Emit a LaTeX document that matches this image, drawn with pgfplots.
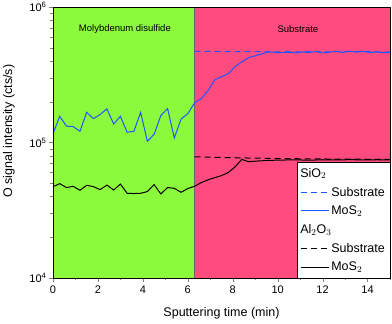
\documentclass[border=0pt]{standalone}
\usepackage{pgfplots}
\pgfplotsset{compat=1.18}
\usepackage{fontspec}
\setmainfont{Liberation Sans}

\definecolor{layergreen}{RGB}{140,250,60}
\definecolor{subpink}{RGB}{255,75,125}
\definecolor{sioblue}{RGB}{35,85,255}

\begin{document}
\begin{tikzpicture}
\begin{axis}[
    scale only axis,
    width=337pt, height=271pt,
    xmin=0, xmax=15,
    ymode=log, ymin=1e4, ymax=1e6,
    axis on top,
    tick align=outside,
    xtick pos=bottom, ytick pos=left,
    major tick length=4pt, minor tick length=2.5pt,
    xtick={0,2,...,14},
    minor xtick={1,3,...,15},
    ytick={1e4,1e5,1e6},
    yticklabels={10\textsuperscript{4},10\textsuperscript{5},10\textsuperscript{6}},
    minor ytick={2e4,3e4,4e4,5e4,6e4,7e4,8e4,9e4,2e5,3e5,4e5,5e5,6e5,7e5,8e5,9e5},
    /pgf/number format/assume math mode=true,
    ticklabel style={font=\fontsize{11}{13}\selectfont},
    yticklabel style={xshift=1pt},
    label style={font=\fontsize{12.5}{15}\selectfont},
    xlabel={Sputtering time (min)},
    ylabel={O signal intensity (cts/s)},
    xlabel style={at={(axis description cs:0.5,-0.13)}, anchor=center},
    ylabel style={at={(axis description cs:-0.131,0.542)}, anchor=center},
    legend style={at={(1,0)}, anchor=south east, draw=black, fill=white,
        font=\fontsize{12.5}{14}\selectfont, row sep=4.3pt,
        cells={anchor=west}, inner xsep=3pt, inner ysep=3.5pt},
    legend image code/.code={\draw[#1] (0pt,0pt) -- (28pt,0pt);},
]
% background regions
\fill[layergreen] (axis cs:0,1e4) rectangle (axis cs:6.27,1e6);
\fill[subpink] (axis cs:6.27,1e4) rectangle (axis cs:15,1e6);
\draw[black!60, line width=0.5pt] (axis cs:6.27,1e4) -- (axis cs:6.27,1e6);
\node[font=\fontsize{9.5}{11}\selectfont] at (axis cs:3.2,6.9e5) {Molybdenum disulfide};
\node[font=\fontsize{9.5}{11}\selectfont] at (axis cs:10.9,6.9e5) {Substrate};

\addlegendimage{empty legend}
\addlegendentry{\makebox[0pt][l]{\hspace*{-31pt}SiO$_2$}}
% SiO2 substrate
\addplot[sioblue, line width=1pt, dash pattern=on 6pt off 4pt] coordinates {
(6.3,4.70e5) (6.9,4.70e5) (7.5,4.69e5) (8.1,4.69e5) (8.7,4.68e5) (9.3,4.68e5)
(9.9,4.66e5) (10.5,4.68e5) (11.1,4.65e5) (11.7,4.71e5) (12.3,4.66e5) (12.9,4.72e5)
(13.5,4.67e5) (14.1,4.70e5) (14.7,4.64e5) (15,4.66e5)
};
\addlegendentry{Substrate}
% SiO2 MoS2
\addplot[sioblue, line width=1pt] coordinates {
(0,1.16e5) (0.3,1.56e5) (0.6,1.32e5) (0.9,1.31e5) (1.2,1.21e5) (1.5,1.67e5)
(1.8,1.50e5) (2.1,1.61e5) (2.4,1.77e5) (2.7,1.37e5) (3.0,1.56e5) (3.3,1.19e5)
(3.6,1.21e5) (3.9,1.67e5) (4.2,1.02e5) (4.5,1.15e5) (4.8,1.58e5) (5.1,1.78e5)
(5.4,1.08e5) (5.7,1.49e5) (6.0,1.63e5) (6.3,1.96e5) (6.6,2.11e5) (6.9,2.41e5)
(7.2,2.90e5) (7.5,3.06e5) (7.8,3.22e5) (8.1,3.62e5) (8.4,3.94e5) (8.7,4.22e5)
(9.0,4.36e5) (9.3,4.51e5) (9.6,4.67e5) (9.9,4.62e5) (10.2,4.60e5) (10.5,4.63e5)
(10.8,4.58e5) (11.1,4.66e5) (11.4,4.61e5) (11.7,4.69e5) (12.0,4.58e5) (12.3,4.64e5)
(12.6,4.70e5) (12.9,4.62e5) (13.2,4.72e5) (13.5,4.65e5) (13.8,4.70e5) (14.1,4.61e5)
(14.4,4.66e5) (14.7,4.60e5) (15.0,4.62e5)
};
\addlegendentry{MoS$_2$}

\addlegendimage{empty legend}
\addlegendentry{\makebox[0pt][l]{\hspace*{-31pt}Al$_2$O$_3$}}
% Al2O3 substrate
\addplot[black, line width=1pt, dash pattern=on 6pt off 4pt] coordinates {
(6.3,7.85e4) (6.9,7.80e4) (7.5,7.76e4) (8.1,7.72e4) (8.7,7.68e4) (9.3,7.65e4)
(9.9,7.62e4) (10.5,7.60e4) (11.1,7.58e4) (11.7,7.57e4) (12.3,7.55e4) (12.9,7.54e4)
(13.5,7.53e4) (14.1,7.52e4) (14.7,7.50e4) (15,7.50e4)
};
\addlegendentry{Substrate}
% Al2O3 MoS2
\addplot[black, line width=1pt] coordinates {
(0,4.72e4) (0.3,4.97e4) (0.6,4.65e4) (0.9,4.75e4) (1.2,4.44e4) (1.5,4.83e4)
(1.8,4.72e4) (2.1,4.49e4) (2.4,4.85e4) (2.7,4.46e4) (3.0,4.93e4) (3.3,4.22e4)
(3.6,4.20e4) (3.9,4.22e4) (4.2,4.34e4) (4.5,4.89e4) (4.8,4.17e4) (5.1,4.65e4)
(5.4,4.59e4) (5.7,4.29e4) (6.0,4.57e4) (6.3,4.75e4) (6.6,5.06e4) (6.9,5.30e4)
(7.2,5.50e4) (7.5,5.70e4) (7.8,6.00e4) (8.1,6.60e4) (8.4,7.50e4) (8.7,7.22e4)
(9.0,7.28e4) (9.3,7.33e4) (9.6,7.38e4) (10.2,7.42e4) (10.8,7.45e4) (11.4,7.40e4)
(12.0,7.46e4) (12.6,7.43e4) (13.2,7.47e4) (13.8,7.44e4) (14.4,7.46e4) (15.0,7.45e4)
};
\addlegendentry{MoS$_2$}
\end{axis}
\pgfresetboundingbox
\useasboundingbox ([xshift=-53pt,yshift=-45pt]current axis.south west)
  rectangle ([xshift=2pt,yshift=7pt]current axis.north east);
\end{tikzpicture}
\end{document}
